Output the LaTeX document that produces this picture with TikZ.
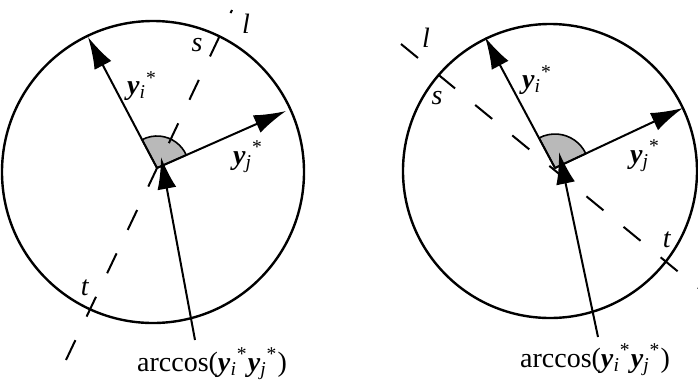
\documentclass[tikz,border=0pt]{standalone}
\usepackage{amsmath}
\usepackage{fontspec}
\setmainfont{Liberation Serif}
\usepackage{tikz}
\usetikzlibrary{arrows.meta}

\newcommand{\ystar}[1]{\textbf{\textit{y}}$_{\textit{#1}}{}^{\text{*}}$}

\begin{document}
\begin{tikzpicture}[x=0.5pt, y=-0.5pt, >={Latex[length=16pt, width=9.5pt]},
    vec/.style={->, line width=1pt},
    rim/.style={line width=1.2pt},
    axisline/.style={line width=1pt, dash pattern=on 11pt off 13pt},
    lbl/.style={font=\fontsize{14}{16}\selectfont, inner sep=0pt},
    wedge/.style={fill=gray!55, draw=black, line width=0.8pt}]

    \useasboundingbox (0,0) rectangle (698,387);

    % Left picture
    \coordinate (O1) at (157,168);
    \coordinate (Yi1) at (88,37);
    \coordinate (Yj1) at (286,111);
    \coordinate (A1) at (195,340);
    \coordinate (T1) at (161,157);
    \coordinate (La1) at (66,360);
    \coordinate (Lb1) at (232,10);

    \draw[rim] (153,172) circle [radius=151];
    \draw[wedge] (O1) -- ++(-24:32) arc (-24:-118:32) -- cycle;
    \draw[axisline] (La1) -- (Lb1);
    \draw[vec] (O1) -- (Yi1);
    \draw[vec] (O1) -- (Yj1);
    \draw[vec] (A1) -- (T1);

    % Labels
    \node[lbl] (l1) at (246,24) {\textit{l}};
    \node[lbl] (s1) at (197,45) {\textit{s}};
    \node[lbl] (t1) at (85,288) {\textit{t}};
    \node[lbl] (yi1) at (142,86) {\ystar{i}};
    \node[lbl] (yj1) at (248,157) {\ystar{j}};
    \node[lbl] (ac1) at (212,364) {arccos(\ystar{i}\ystar{j})};

    % Right picture
    \coordinate (O2) at (555,168);
    \coordinate (Yi2) at (485,37);
    \coordinate (Yj2) at (683,108);
    \coordinate (A2) at (598,337);
    \coordinate (T2) at (559,152);
    \coordinate (La2) at (401,44);
    \coordinate (Lb2) at (698,288);

    \draw[rim] (550,171) circle [radius=147];
    \draw[wedge] (O2) -- ++(-25:34) arc (-25:-118:34) -- cycle;
    \draw[axisline] (La2) -- (Lb2);
    \draw[vec] (O2) -- (Yi2);
    \draw[vec] (O2) -- (Yj2);
    \draw[vec] (A2) -- (T2);

    % Labels
    \node[lbl] (l2) at (426,38) {\textit{l}};
    \node[lbl] (s2) at (437,98) {\textit{s}};
    \node[lbl] (t2) at (667,240) {\textit{t}};
    \node[lbl] (yi2) at (537,80) {\ystar{i}};
    \node[lbl] (yj2) at (645,156) {\ystar{j}};
    \node[lbl] (ac2) at (595,360) {arccos(\ystar{i}\ystar{j})};

\end{tikzpicture}
\end{document}
